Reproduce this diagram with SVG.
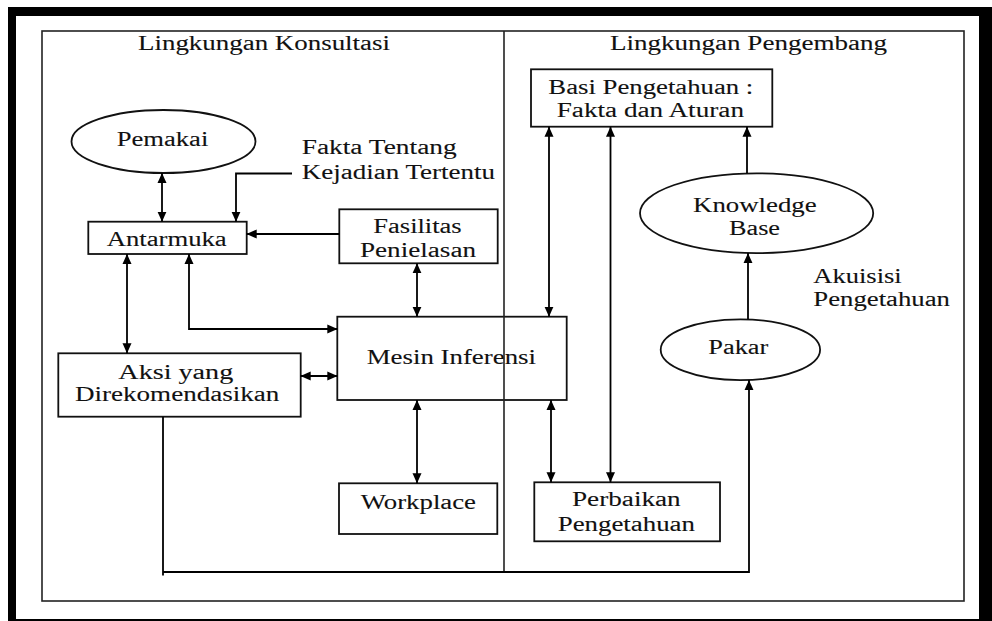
<svg xmlns="http://www.w3.org/2000/svg" width="992" height="621" viewBox="0 0 992 621">
  <defs>
    <marker id="arrow" viewBox="0 0 10 10" refX="10" refY="5" markerWidth="10" markerHeight="10" markerUnits="userSpaceOnUse" orient="auto-start-reverse">
      <path d="M0,0.5 L10,5 L0,9.5 z" fill="#000"/>
    </marker>
    <style>
      .box { fill: #fff; stroke: #111; stroke-width: 1.8; }
      .frame { fill: none; stroke: #222; stroke-width: 1.6; }
      .conn { fill: none; stroke: #000; stroke-width: 1.8; }
      .both { marker-start: url(#arrow); marker-end: url(#arrow); }
      .one { marker-end: url(#arrow); }
      .lbl text { font-family: 'Liberation Serif', 'DejaVu Serif', serif; font-size: 20px; fill: #111; stroke: #111; stroke-width: 0.1; }
    </style>
  </defs>

  <!-- page background and heavy outer border -->
  <rect x="0" y="0" width="992" height="621" fill="#fff"/>
  <rect x="8" y="7" width="984" height="614" fill="#000"/>
  <rect x="16" y="16" width="963" height="603" fill="#fff"/>

  <!-- inner frame -->
  <rect class="frame" x="42" y="31" width="922" height="570"/>

  <g class="lbl">
  <!-- section headings -->
  <g id="heading-konsultasi">
    <text x="138" y="49.5" textLength="252" lengthAdjust="spacingAndGlyphs">Lingkungan Konsultasi</text>
  </g>
  <g id="heading-pengembang">
    <text x="610" y="49.5" textLength="277" lengthAdjust="spacingAndGlyphs">Lingkungan Pengembang</text>
  </g>

  <!-- nodes -->
  <g id="pemakai">
    <ellipse class="box" cx="163.5" cy="141.5" rx="92" ry="31.5"/>
    <text x="116.7" y="145.7" textLength="91.6" lengthAdjust="spacingAndGlyphs">Pemakai</text>
  </g>

  <g id="fakta-label">
    <text x="301.7" y="154.3" textLength="155" lengthAdjust="spacingAndGlyphs">Fakta Tentang</text>
    <text x="301.7" y="179.3" textLength="193.3" lengthAdjust="spacingAndGlyphs">Kejadian Tertentu</text>
  </g>

  <g id="antarmuka">
    <rect class="box" x="88.3" y="221.7" width="158.4" height="32.3"/>
    <text x="106.7" y="246" textLength="120" lengthAdjust="spacingAndGlyphs">Antarmuka</text>
  </g>

  <g id="fasilitas">
    <rect class="box" x="339.3" y="209.3" width="158.4" height="54"/>
    <text x="373.3" y="233.3" textLength="88.4" lengthAdjust="spacingAndGlyphs">Fasilitas</text>
    <text x="360" y="256.7" textLength="116" lengthAdjust="spacingAndGlyphs">Penielasan</text>
  </g>

  <g id="aksi">
    <rect class="box" x="58.3" y="353.3" width="242.4" height="63.4"/>
    <text x="118.3" y="379" textLength="115" lengthAdjust="spacingAndGlyphs">Aksi yang</text>
    <text x="75" y="400.7" textLength="204.3" lengthAdjust="spacingAndGlyphs">Direkomendasikan</text>
  </g>

  <g id="mesin-inferensi">
    <rect class="box" x="337.3" y="316.7" width="229.4" height="83.3"/>
    <text x="366.7" y="364" textLength="169.3" lengthAdjust="spacingAndGlyphs">Mesin Inferensi</text>
  </g>

  <g id="workplace">
    <rect class="box" x="339" y="483.3" width="158.3" height="50.7"/>
    <text x="360.7" y="509.3" textLength="115.3" lengthAdjust="spacingAndGlyphs">Workplace</text>
  </g>

  <g id="basis-pengetahuan">
    <rect class="box" x="531" y="69.3" width="241.3" height="57.4"/>
    <text x="548.3" y="94.3" textLength="205" lengthAdjust="spacingAndGlyphs">Basi Pengetahuan :</text>
    <text x="556.7" y="117.3" textLength="187.3" lengthAdjust="spacingAndGlyphs">Fakta dan Aturan</text>
  </g>

  <g id="perbaikan">
    <rect class="box" x="534.3" y="482.3" width="185.7" height="59"/>
    <text x="572" y="506" textLength="108.7" lengthAdjust="spacingAndGlyphs">Perbaikan</text>
    <text x="557.7" y="530.7" textLength="137.3" lengthAdjust="spacingAndGlyphs">Pengetahuan</text>
  </g>

  <g id="knowledge-base">
    <ellipse class="box" cx="756.6" cy="213.2" rx="116.6" ry="39.9"/>
    <text x="693" y="211.7" textLength="123.7" lengthAdjust="spacingAndGlyphs">Knowledge</text>
    <text x="729" y="235" textLength="51" lengthAdjust="spacingAndGlyphs">Base</text>
  </g>

  <g id="akuisisi-label">
    <text x="813.3" y="283.3" textLength="88.4" lengthAdjust="spacingAndGlyphs">Akuisisi</text>
    <text x="813.3" y="305.7" textLength="136.7" lengthAdjust="spacingAndGlyphs">Pengetahuan</text>
  </g>

  <g id="pakar">
    <ellipse class="box" cx="740.4" cy="349.7" rx="79.7" ry="30.4"/>
    <text x="708.3" y="354.3" textLength="60" lengthAdjust="spacingAndGlyphs">Pakar</text>
  </g>
  </g>

  <!-- divider between the two environments -->
  <line class="frame" x1="504" y1="31" x2="504" y2="572"/>

  <!-- connectors -->
  <g id="connectors">
    <path class="conn both" d="M162,173 V221.7"/>
    <path class="conn one" d="M292,173.5 H236 V221.7"/>
    <path class="conn one" d="M339.3,234 H246.7"/>
    <path class="conn both" d="M127,254 V353.3"/>
    <path class="conn both" d="M189,254 V329 H337.3"/>
    <path class="conn both" d="M300.7,376 H337.3"/>
    <path class="conn both" d="M417,263.3 V316.7"/>
    <path class="conn both" d="M417,400 V483.3"/>
    <path class="conn both" d="M549,126.7 V316.7"/>
    <path class="conn both" d="M610.5,126.7 V482.3"/>
    <path class="conn both" d="M551,400 V482.3"/>
    <path class="conn one" d="M747,173.3 V126.7"/>
    <path class="conn one" d="M748,319.3 V253.1"/>
    <path class="conn" d="M163,416.7 V575.5"/>
    <path class="conn one" d="M163,572 H749 V380.1"/>
  </g>
</svg>
